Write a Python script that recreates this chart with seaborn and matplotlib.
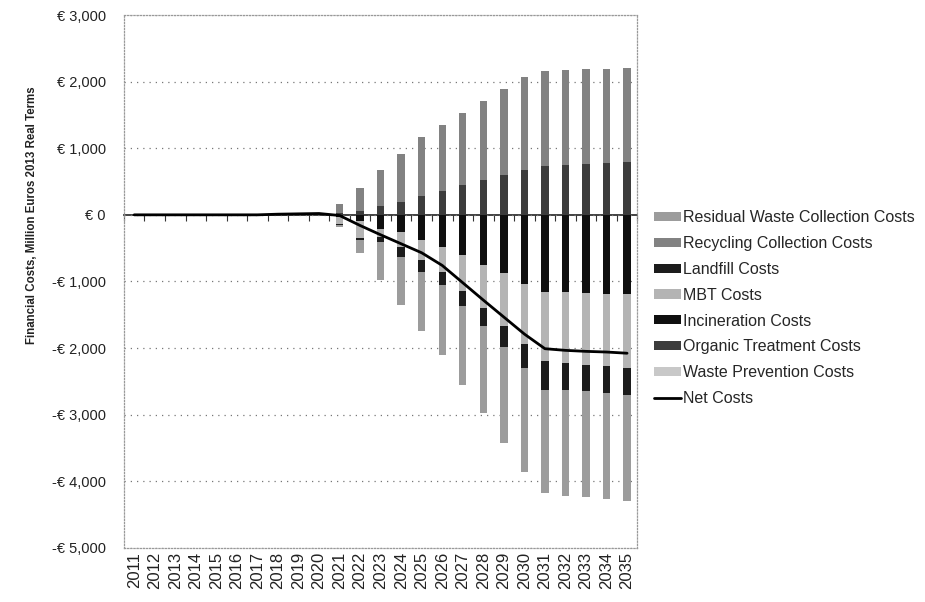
import numpy as np
import matplotlib
matplotlib.use("Agg")
import matplotlib.pyplot as plt
import seaborn as sns
from matplotlib.ticker import FuncFormatter

# -----------------------------
# Data (Million Euros, 2013 real terms)
# -----------------------------
years = [str(y) for y in range(2011, 2036)]

residual_waste = [0] * 10 + [-40, -200, -560, -715, -880, -1050, -1180, -1310,
                             -1440, -1560, -1540, -1590, -1590, -1580, -1580]
recycling = [0] * 10 + [142, 341, 530, 715, 890, 996, 1081, 1187,
                        1298, 1400, 1433, 1418, 1424, 1419, 1419]
landfill = [0] * 10 + [-15, -30, -75, -150, -180, -200, -230, -270,
                       -310, -360, -430, -410, -400, -410, -410]
mbt = [0] * 10 + [-110, -260, -127, -230, -300, -380, -540, -650,
                  -790, -905, -1040, -1060, -1080, -1080, -1110]
incineration = [0] * 10 + [-25, -90, -213, -260, -380, -480, -600, -750,
                           -880, -1035, -1160, -1160, -1170, -1190, -1190]
organic = [0] * 10 + [25, 65, 140, 200, 280, 354, 444, 520,
                      596, 670, 727, 752, 763, 778, 793]
waste_prevention = [0] * 25
net_costs = [0, 0, 0, 0, 0, 0, 0, 10, 15, 20,
             -10, -160, -300, -435, -570, -760, -1020, -1280,
             -1535, -1790, -2010, -2035, -2050, -2060, -2078]

series = {
    "Residual Waste Collection Costs": residual_waste,
    "Recycling Collection Costs": recycling,
    "Landfill Costs": landfill,
    "MBT Costs": mbt,
    "Incineration Costs": incineration,
    "Organic Treatment Costs": organic,
    "Waste Prevention Costs": waste_prevention,
}
legend_order = list(series.keys()) + ["Net Costs"]
# Excel stacks the series in reverse of the legend listing
stack_order = list(reversed(list(series.keys())))

colors = {
    "Residual Waste Collection Costs": "#9c9c9c",
    "Recycling Collection Costs": "#828282",
    "Landfill Costs": "#1c1c1c",
    "MBT Costs": "#b4b4b4",
    "Incineration Costs": "#0f0f0f",
    "Organic Treatment Costs": "#3c3c3c",
    "Waste Prevention Costs": "#c8c8c8",
}

# -----------------------------
# Plot
# -----------------------------
sns.set_theme(style="white")
plt.rcParams["font.family"] = ["Liberation Sans", "DejaVu Sans"]

fig, ax = plt.subplots(figsize=(9.25, 6.02), dpi=100)
fig.subplots_adjust(left=0.134, right=0.689, bottom=0.09, top=0.975)

n = len(years)
pos_base = np.zeros(n)
neg_base = np.zeros(n)
for name in stack_order:
    vals = np.array(series[name], dtype=float)
    bottom = np.where(vals >= 0, pos_base, neg_base)
    sns.barplot(x=years, y=vals, bottom=bottom, color=colors[name],
                saturation=1, width=0.36, errorbar=None, linewidth=0,
                label=name, ax=ax, zorder=2)
    pos_base += np.clip(vals, 0, None)
    neg_base += np.clip(vals, None, 0)

sns.lineplot(x=years, y=net_costs, color="black", linewidth=2, sort=False,
             label="Net Costs", ax=ax, zorder=4)

# axes
ax.set_ylim(-5000, 3000)
ax.set_yticks(np.arange(-5000, 3001, 1000))
ax.yaxis.set_major_formatter(FuncFormatter(
    lambda v, p: f"€ {v:,.0f}" if v >= 0 else f"-€ {-v:,.0f}"))
ax.set_xlim(-0.5, n - 0.5)
ax.yaxis.grid(True, linestyle=(0, (1, 4)), color="#777777", linewidth=0.9)
ax.xaxis.grid(False)
ax.set_axisbelow(True)
for sp in ax.spines.values():
    sp.set_linestyle((0, (1, 1.5)))
    sp.set_color("#999999")
    sp.set_linewidth(0.9)

ax.tick_params(axis="x", rotation=90, labelsize=12, length=0, pad=3,
               colors="#222222")
ax.tick_params(axis="y", labelsize=10.5, length=0, pad=13, colors="#222222")
ax.set_xlabel("")
ax.set_ylabel("Financial Costs, Million Euros 2013 Real Terms", fontsize=8.3,
              fontweight="bold", color="#222222")
ax.yaxis.set_label_coords(-0.167, 0.625)

# zero axis with category tick marks
zero_ax = ax.secondary_xaxis(0, transform=ax.transData)
zero_ax.set_xticks(np.arange(n + 1) - 0.5)
zero_ax.set_xticklabels([])
zero_ax.tick_params(axis="x", direction="out", length=4, width=0.8,
                    color="#333333")
zero_ax.spines["bottom"].set_color("#333333")
zero_ax.spines["bottom"].set_linewidth(1.3)

# legend
handles, labels = ax.get_legend_handles_labels()
lookup = dict(zip(labels, handles))
ax.legend([lookup[l] for l in legend_order], legend_order,
          loc="center left", bbox_to_anchor=(1.02, 0.45), frameon=False,
          fontsize=11.5, handlelength=1.7, handleheight=0.5,
          handletextpad=0.1, labelspacing=0.68, borderaxespad=0)

plt.savefig("out.png", dpi=100)
